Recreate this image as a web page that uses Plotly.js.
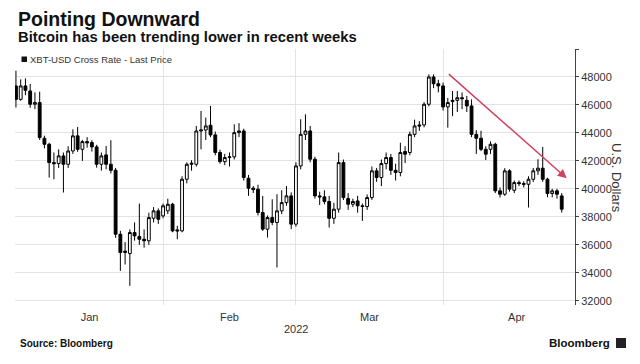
<!DOCTYPE html>
<html>
<head>
<meta charset="utf-8">
<script src="https://cdn.plot.ly/plotly-3.0.1.min.js"></script>
<style>
  html, body { margin: 0; padding: 0; background: #ffffff; }
  #chart { width: 640px; height: 364px; }
</style>
</head>
<body>
<div id="chart"></div>
<script>
// ---- Data (XBT-USD daily candles) ----
const dates = [
  "2022-01-01","2022-01-02","2022-01-03","2022-01-04","2022-01-05","2022-01-06","2022-01-07","2022-01-08","2022-01-09","2022-01-10",
  "2022-01-11","2022-01-12","2022-01-13","2022-01-14","2022-01-15","2022-01-16","2022-01-17","2022-01-18","2022-01-19","2022-01-20",
  "2022-01-21","2022-01-22","2022-01-23","2022-01-24","2022-01-25","2022-01-26","2022-01-27","2022-01-28","2022-01-29","2022-01-30",
  "2022-01-31","2022-02-01","2022-02-02","2022-02-03","2022-02-04","2022-02-05","2022-02-06","2022-02-07","2022-02-08","2022-02-09",
  "2022-02-10","2022-02-11","2022-02-12","2022-02-13","2022-02-14","2022-02-15","2022-02-16","2022-02-17","2022-02-18","2022-02-19",
  "2022-02-20","2022-02-21","2022-02-22","2022-02-23","2022-02-24","2022-02-25","2022-02-26","2022-02-27","2022-02-28","2022-03-01",
  "2022-03-02","2022-03-03","2022-03-04","2022-03-05","2022-03-06","2022-03-07","2022-03-08","2022-03-09","2022-03-10","2022-03-11",
  "2022-03-12","2022-03-13","2022-03-14","2022-03-15","2022-03-16","2022-03-17","2022-03-18","2022-03-19","2022-03-20","2022-03-21",
  "2022-03-22","2022-03-23","2022-03-24","2022-03-25","2022-03-26","2022-03-27","2022-03-28","2022-03-29","2022-03-30","2022-03-31",
  "2022-04-01","2022-04-02","2022-04-03","2022-04-04","2022-04-05","2022-04-06","2022-04-07","2022-04-08","2022-04-09","2022-04-10",
  "2022-04-11","2022-04-12","2022-04-13","2022-04-14","2022-04-15","2022-04-16","2022-04-17","2022-04-18","2022-04-19","2022-04-20",
  "2022-04-21","2022-04-22","2022-04-23","2022-04-24","2022-04-25","2022-04-26"
];
const openP = [
  47360,46400,47360,47000,46050,46170,43620,43190,41880,41810,
  42360,41760,42710,43790,42830,43380,43310,43000,41760,42430,
  41760,41330,36760,35450,35380,36880,36600,36400,36290,37900,
  38430,38070,38430,38900,37070,37000,40690,41760,41760,44140,
  44210,44550,43860,42600,41950,42240,42290,44020,44140,40760,
  40050,39980,38310,37120,37950,37600,38430,39020,39500,37480,
  41640,43900,44140,42120,39500,39430,39100,37900,38550,41880,
  39310,38900,39140,38790,38740,39380,41290,40810,41810,42240,
  41330,41170,42670,42600,43900,44570,44570,46050,48000,47520,
  47360,45860,46240,46330,46520,46330,45930,43900,43620,42830,
  42830,43190,39860,39620,41290,39900,40450,40380,40330,40690,
  41290,41480,40690,39670,39860,39500
];
const highP = [
  48450,47830,47900,47500,46900,46950,43800,43300,42600,42830,
  42600,43050,44260,44430,43500,43700,43480,43150,42600,43070,
  43480,41500,37000,36200,37100,37600,38950,37100,38300,38700,
  38600,38950,39300,39000,37360,40900,41900,42050,44500,45570,
  45100,45930,44100,42800,42500,42600,44620,44700,44300,41000,
  40200,40300,39500,38100,39260,39620,39900,40210,39750,41900,
  44980,45330,44500,42300,39800,39900,39500,39000,42600,42100,
  39700,39300,39500,38950,39600,41600,41500,42100,42600,42500,
  41800,43300,43050,44100,44950,44850,46200,48190,48190,47800,
  47600,46500,47000,47000,46900,46650,46400,44200,44150,43050,
  43400,43300,40100,41480,41400,40600,40600,40550,40900,41500,
  42120,43000,40800,40000,40000,39700
];
const lowP = [
  45820,46300,46700,45800,45700,43500,42900,40810,40690,41500,
  39740,41500,42500,42650,42000,42950,42670,41520,41300,41400,
  41100,36500,34140,34600,33070,36300,36000,35800,36000,37600,
  37500,37900,38200,36900,36400,36900,40400,41300,41600,42830,
  43500,43700,42400,41800,41700,41600,42100,43700,40600,39500,
  39700,38100,37000,36520,37400,34380,38200,38800,37120,37300,
  41400,43500,41900,39300,38850,38900,37240,37500,38300,39200,
  38500,38700,38300,37710,38500,39200,40500,40200,41400,41000,
  40600,40900,41850,42400,43700,44150,44400,45900,47200,46900,
  45600,44380,45200,45500,45700,45500,43700,42500,42700,42060,
  42500,39700,39380,39500,39800,39700,40200,40100,38670,40500,
  41000,40500,39400,39400,39300,38310
];
const closeP = [
  46400,47360,47050,46050,46170,43670,43190,41880,41800,42360,
  41760,42710,43790,42830,43380,43290,43000,41760,42360,41760,
  41330,36760,35450,35550,36880,36640,36400,36290,37950,38430,
  37830,38790,38900,37000,37000,40690,41760,41830,44140,44210,
  44500,43860,42600,41950,42240,42290,44020,44140,40810,40050,
  39950,38310,37120,37950,37600,38430,39020,39500,37480,41640,
  43900,44140,42120,39500,39430,39100,37900,38550,41880,39380,
  38900,39100,38790,38740,39380,41290,40810,41810,42240,41330,
  41170,42600,42480,43900,44500,44500,46050,48000,47520,47360,
  45860,46170,46330,46520,46450,45930,43900,43620,42830,42480,
  43190,39860,39620,41290,39980,40450,40380,40330,40690,41290,
  41480,40690,39670,39860,39620,38550
];

// Y axis ticks
const yTicks = [32000, 34000, 36000, 38000, 40000, 42000, 44000, 46000, 48000, 50000];
const yTickText = ["32000", "34000", "36000", "38000", "40000", "42000", "44000", "46000", "48000", ""];

// Trend arrow (annotation) endpoints: [start, tip]
const arrowDates = ["2022-04-01 21:30", "2022-04-27 01:30"];
const arrowPrices = [48300, 40760];

// Texts
const titleText = "Pointing Downward";
const subtitleText = "Bitcoin has been trending lower in recent weeks";
const legendText = "XBT-USD Cross Rate - Last Price";
const yTitleText = "U.S. Dollars";
const yearText = "2022";
const sourceText = "Source: Bloomberg";
const brandText = "Bloomberg";

// ---- Layout helpers (pixel -> paper) ----
const W = 640, H = 364;
const M = { l: 15, r: 65, t: 49, b: 59 };
const PW = W - M.l - M.r, PH = H - M.t - M.b;
const px = x => (x - M.l) / PW;
const py = y => (H - M.b - y) / PH;

const FONT = "Liberation Sans, Arial, Helvetica, sans-serif";

const trace = {
  type: "candlestick",
  x: dates,
  open: openP,
  high: highP,
  low: lowP,
  close: closeP,
  increasing: { line: { color: "#000000", width: 1 }, fillcolor: "#ffffff" },
  decreasing: { line: { color: "#000000", width: 1 }, fillcolor: "#000000" },
  whiskerwidth: 0,
  hoverinfo: "skip",
  showlegend: false
};

const layout = {
  width: W,
  height: H,
  margin: M,
  paper_bgcolor: "#ffffff",
  plot_bgcolor: "#ffffff",
  font: { family: FONT, color: "#333333", size: 11 },
  showlegend: false,
  boxgap: 0.15,
  xaxis: {
    type: "date",
    range: ["2021-12-31 19:12", "2022-04-28 19:12"],
    rangeslider: { visible: false },
    tick0: "2022-01-01",
    dtick: "M1",
    tickformat: "%b",
    ticklabelmode: "period",
    ticks: "",
    ticklabelstandoff: 4,
    showgrid: true,
    gridcolor: "#e3e3e3",
    gridwidth: 1,
    zeroline: false,
    showline: false,
    tickfont: { family: FONT, size: 11, color: "#333333" },
    fixedrange: true
  },
  yaxis: {
    side: "right",
    range: [31700, 50000],
    tickvals: yTicks,
    ticktext: yTickText,
    showgrid: true,
    gridcolor: "#e3e3e3",
    gridwidth: 1,
    zeroline: false,
    showline: true,
    linecolor: "#444444",
    linewidth: 1,
    ticks: "outside",
    ticklen: 3,
    tickcolor: "#444444",
    tickfont: { family: FONT, size: 11, color: "#333333" },
    fixedrange: true
  },
  shapes: [
    // legend swatch
    { type: "rect", xref: "paper", yref: "paper",
      x0: px(21.5), x1: px(27), y0: py(62), y1: py(56.5),
      fillcolor: "#111111", line: { width: 0 } },
    // Bloomberg logo mark
    { type: "rect", xref: "paper", yref: "paper",
      x0: px(616), x1: px(626), y0: py(348), y1: py(338),
      fillcolor: "#222222", line: { width: 0 } }
  ],
  annotations: [
    { xref: "paper", yref: "paper", x: px(16), y: py(18.5), xanchor: "left", yanchor: "middle",
      text: "<b>" + titleText + "</b>", showarrow: false,
      font: { family: FONT, size: 19.5, color: "#111111" } },
    { xref: "paper", yref: "paper", x: px(16), y: py(36.5), xanchor: "left", yanchor: "middle",
      text: "<b>" + subtitleText + "</b>", showarrow: false,
      font: { family: FONT, size: 14.8, color: "#111111" } },
    { xref: "paper", yref: "paper", x: px(27.5), y: py(59.5), xanchor: "left", yanchor: "middle",
      text: legendText, showarrow: false,
      font: { family: FONT, size: 9.5, color: "#333333" } },
    { xref: "paper", yref: "paper", x: px(617), y: py(178), xanchor: "center", yanchor: "middle",
      text: yTitleText, textangle: 90, showarrow: false,
      font: { family: FONT, size: 13, color: "#333333" } },
    { xref: "paper", yref: "paper", x: px(296), y: py(329), xanchor: "center", yanchor: "middle",
      text: yearText, showarrow: false,
      font: { family: FONT, size: 11, color: "#333333" } },
    { xref: "paper", yref: "paper", x: px(18), y: py(343), xanchor: "left", yanchor: "middle",
      text: "<b>" + sourceText + "</b>", showarrow: false,
      font: { family: FONT, size: 10, color: "#111111" } },
    { xref: "paper", yref: "paper", x: px(612), y: py(343), xanchor: "right", yanchor: "middle",
      text: "<b>" + brandText + "</b>", showarrow: false,
      font: { family: FONT, size: 11.5, color: "#111111" } },
    { xref: "x", yref: "y", axref: "x", ayref: "y",
      x: arrowDates[1], y: arrowPrices[1], ax: arrowDates[0], ay: arrowPrices[0],
      text: "", showarrow: true, arrowhead: 2, arrowsize: 1.2, arrowwidth: 1.5,
      arrowcolor: "#cf4460", standoff: 0, startstandoff: 0 }
  ]
};

Plotly.newPlot("chart", [trace], layout, { staticPlot: true, displayModeBar: false });
</script>
</body>
</html>
